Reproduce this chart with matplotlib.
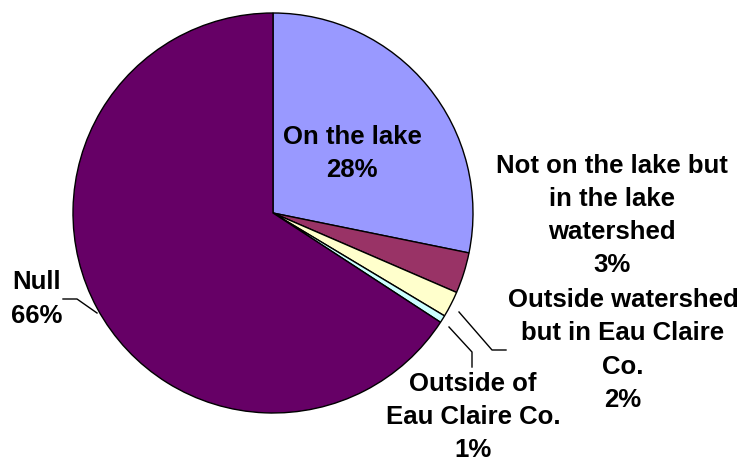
import matplotlib
matplotlib.use("Agg")
import matplotlib.pyplot as plt

categories = ["On the lake", "Not on the lake but\nin the lake\nwatershed",
              "Outside watershed\nbut in Eau Claire\nCo.", "Outside of\nEau Claire Co.", "Null"]
values = [28.2, 3.3, 2.1, 0.6, 65.8]
colors = ["#9999FF", "#993366", "#FFFFCC", "#CCFFFF", "#660066"]

W, H = 741, 465
fig = plt.figure(figsize=(W / 100, H / 100), dpi=100)
cx, cy, r = 273, 213, 200
ax = fig.add_axes([(cx - r) / W, (H - cy - r) / H, 2 * r / W, 2 * r / H])
ax.axis("off")

ax.pie(values, colors=colors, startangle=90, counterclock=False, radius=1,
       wedgeprops=dict(edgecolor="black", linewidth=1.0))
ax.set_xlim(-1, 1)
ax.set_ylim(-1, 1)

label_pos = [(0.395, 0.2975), (1.695, -0.0125), (1.75, -0.685), (1.0, -1.02), (-1.18, -0.43)]
pitch = 0.166
font = dict(fontsize=18.5, fontweight="bold", family=["Liberation Sans", "DejaVu Sans"],
            ha="center", va="center", clip_on=False)
for cat, v, (x, y) in zip(categories, values, label_pos):
    lines = f"{cat}\n{round(v)}%".split("\n")
    n = len(lines)
    for i, line in enumerate(lines):
        ax.text(x, y + ((n - 1) / 2 - i) * pitch, line, **font)

leaders = [
    [(-0.88, -0.50), (-0.98, -0.43), (-1.05, -0.43)],
    [(0.93, -0.495), (1.095, -0.685), (1.165, -0.685)],
    [(0.88, -0.57), (0.995, -0.695), (0.995, -0.77)],
]
for pts in leaders:
    xs, ys = zip(*pts)
    ax.plot(xs, ys, color="black", linewidth=1.0, clip_on=False)

fig.savefig("out.png", dpi=100)
